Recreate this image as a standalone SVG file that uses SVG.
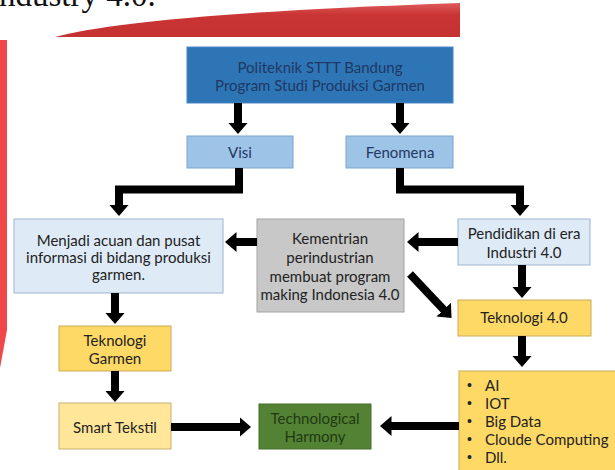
<svg xmlns="http://www.w3.org/2000/svg" width="615" height="470" viewBox="0 0 615 470">
<style>
.t{font-family:Lato,"Open Sans","Liberation Sans",sans-serif;font-size:15px;fill:#222;text-anchor:middle;dominant-baseline:central}
.navy{fill:#1f3864}
.green{fill:#1f3a12}
.conn{fill:none;stroke:#000;stroke-width:8;stroke-linejoin:miter}
.li{font-family:Lato,"Open Sans","Liberation Sans",sans-serif;font-size:15px;fill:#222;dominant-baseline:central}
.bul{font-family:"Liberation Sans",sans-serif;font-size:14px;fill:#222;dominant-baseline:central}
</style>
<defs>
<marker id="ah" markerUnits="userSpaceOnUse" markerWidth="12" markerHeight="20" refX="0.5" refY="10" orient="auto">
<path d="M0,0 L11.5,10 L0,20 Z" fill="#000"/>
</marker>
<linearGradient id="sw" x1="0" y1="0" x2="0" y2="1">
<stop offset="0" stop-color="#e05a5a"/>
<stop offset="0.35" stop-color="#c93434"/>
<stop offset="1" stop-color="#c53030"/>
</linearGradient>
</defs>
<rect width="615" height="470" fill="#fff"/>
<g id="background">
<text x="-12" y="6" font-family="Liberation Serif,serif" font-size="33" fill="#111">Industry 4.0.</text>
<path d="M55,37 Q140,14 460,3 L460,37 Z" fill="url(#sw)"/>
<path d="M0,40 L7,40 L7,330 L0,368 Z" fill="#f04848"/>
</g>
<g id="politeknik">
<rect x="187" y="47" width="266" height="56" fill="#2e75b6" stroke="#4a86c5"/>
<text class="t navy" x="320" y="67">Politeknik STTT Bandung</text>
<text class="t navy" x="320" y="85">Program Studi Produksi Garmen</text>
</g>
<g id="visi">
<rect x="187" y="136" width="106" height="32" fill="#9dc3e6" stroke="#7fa6cc"/>
<text class="t navy" x="240" y="152">Visi</text>
</g>
<g id="fenomena">
<rect x="346" y="136" width="107" height="32" fill="#9dc3e6" stroke="#7fa6cc"/>
<text class="t navy" x="400" y="152">Fenomena</text>
</g>
<g id="menjadi">
<rect x="14" y="219" width="209" height="74" fill="#deebf7" stroke="#9db5cf"/>
<text class="t" x="118.5" y="240">Menjadi acuan dan pusat</text>
<text class="t" x="118.5" y="257">informasi di bidang produksi</text>
<text class="t" x="118.5" y="274">garmen.</text>
</g>
<g id="kementrian">
<rect x="257" y="219" width="147" height="93" fill="#c8c8c8" stroke="#a3a3a3"/>
<text class="t" x="330" y="238">Kementrian</text>
<text class="t" x="330" y="257">perindustrian</text>
<text class="t" x="330" y="276">membuat program</text>
<text class="t" x="330" y="294">making Indonesia 4.0</text>
</g>
<g id="pendidikan">
<rect x="458" y="219" width="132" height="46" fill="#deebf7" stroke="#9db5cf"/>
<text class="t" x="524" y="233">Pendidikan di era</text>
<text class="t" x="524" y="252">Industri 4.0</text>
</g>
<g id="teknologi40">
<rect x="458" y="300" width="133" height="36" fill="#ffd966" stroke="#c9aa55"/>
<text class="t" x="524" y="317">Teknologi 4.0</text>
</g>
<g id="teknologi-garmen">
<rect x="59" y="326" width="112" height="45" fill="#ffd966" stroke="#c9aa55"/>
<text class="t" x="115" y="340">Teknologi</text>
<text class="t" x="115" y="358">Garmen</text>
</g>
<g id="smart-tekstil">
<rect x="59" y="403" width="112" height="46" fill="#ffe699" stroke="#c9b070"/>
<text class="t" x="115" y="427">Smart Tekstil</text>
</g>
<g id="technological-harmony">
<rect x="259" y="404" width="112" height="45" fill="#548235" stroke="#456c2b"/>
<text class="t green" x="315" y="417.5">Technological</text>
<text class="t green" x="315" y="435.5">Harmony</text>
</g>
<g id="list">
<rect x="459" y="371" width="170" height="120" fill="#ffd966" stroke="#c9aa55"/>
<text class="bul" x="467" y="385">•</text><text class="li" x="485" y="385">AI</text>
<text class="bul" x="467" y="403">•</text><text class="li" x="485" y="403">IOT</text>
<text class="bul" x="467" y="421">•</text><text class="li" x="485" y="421">Big Data</text>
<text class="bul" x="467" y="439">•</text><text class="li" x="485" y="439">Cloude Computing</text>
<text class="bul" x="467" y="457">•</text><text class="li" x="485" y="457">Dll.</text>
</g>
<g id="connectors">
<path class="conn" d="M238,103 V123" marker-end="url(#ah)"/>
<path class="conn" d="M400,103 V123" marker-end="url(#ah)"/>
<path class="conn" d="M239,168 V189.5 H119 V205" marker-end="url(#ah)"/>
<path class="conn" d="M400,168 V189.5 H520 V205" marker-end="url(#ah)"/>
<path class="conn" d="M257,242 H236" marker-end="url(#ah)"/>
<path class="conn" d="M458,242 H418" marker-end="url(#ah)"/>
<path class="conn" d="M115,293 V313" marker-end="url(#ah)"/>
<path class="conn" d="M115,371 V391" marker-end="url(#ah)"/>
<path class="conn" d="M171,427 H240" marker-end="url(#ah)"/>
<path class="conn" d="M459,426 H391" marker-end="url(#ah)"/>
<path class="conn" d="M410,274 L444,310" marker-end="url(#ah)"/>
<path class="conn" d="M522,265 V287" marker-end="url(#ah)"/>
<path class="conn" d="M522,336 V356" marker-end="url(#ah)"/>
</g>
</svg>
